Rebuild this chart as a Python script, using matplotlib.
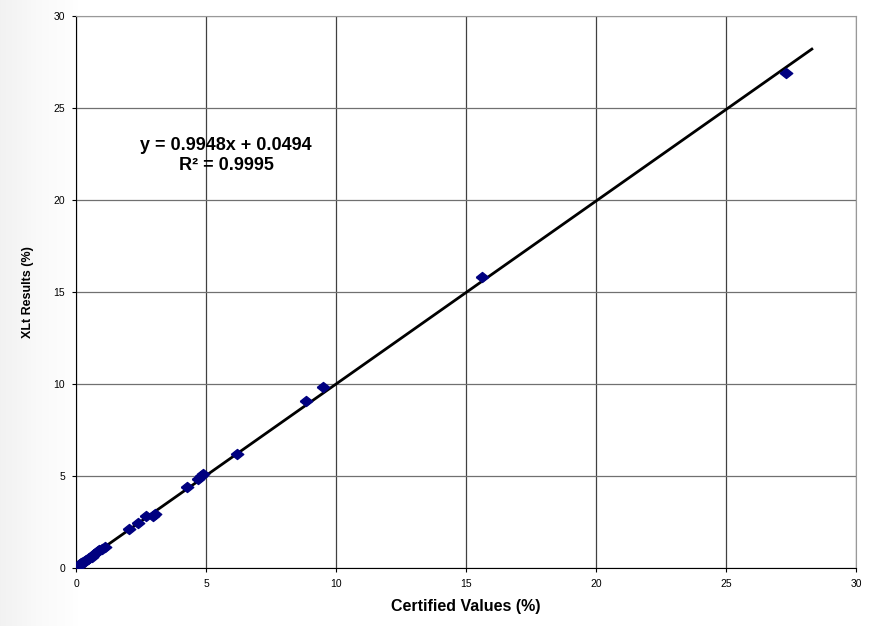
import matplotlib.pyplot as plt
import numpy as np

certified = [0.1, 0.15, 0.2, 0.25, 0.3, 0.35, 0.4, 0.45, 0.5, 0.6, 0.7, 0.8,
             0.85, 0.9, 1.0, 1.1, 2.05, 2.4, 2.7, 2.95, 3.05, 4.25, 4.7, 4.8,
             4.9, 6.2, 8.85, 9.5, 15.6, 27.3]
xlt = [0.1, 0.2, 0.25, 0.3, 0.35, 0.4, 0.45, 0.5, 0.55, 0.6, 0.75, 0.85,
       0.9, 0.95, 1.05, 1.15, 2.1, 2.45, 2.8, 2.85, 2.95, 4.4, 4.85, 5.0,
       5.1, 6.22, 9.05, 9.85, 15.8, 26.9]

# trendline as printed on the chart
slope = 0.9948
intercept = 0.0494
fit_range = [0, 28.3]
eq_line = "y = 0.9948x + 0.0494"
r2_line = "R\u00b2 = 0.9995"

xticks = [0, 5, 10, 15, 20, 25, 30]
yticks = [0, 5, 10, 15, 20, 25, 30]

plt.rcParams['font.family'] = ['Liberation Sans', 'DejaVu Sans']

fig = plt.figure(figsize=(8.72, 6.26), dpi=100)
fig.patch.set_facecolor('white')

# faint grey shading down the left edge
bg = fig.add_axes([0, 0, 0.09, 1], zorder=-10)
grad = np.linspace(0, 1, 64)[None, :] * np.ones((8, 1))
bg.imshow(grad, cmap='Greys_r', vmin=-3, vmax=1, aspect='auto', alpha=0.35,
          extent=[0, 1, 0, 1])
bg.axis('off')

ax = fig.add_axes([0.0872, 0.0927, 0.8945, 0.8817])
ax.set_facecolor('white')

fx = np.array(fit_range)
ax.plot(fx, slope * fx + intercept, color='black', lw=2, zorder=3)

diamond = [(-1, 0), (0, 0.8), (1, 0), (0, -0.8), (-1, 0)]
ax.plot(certified, xlt, linestyle='none', marker=diamond, ms=9,
        color='#000080', mec='#000080', zorder=4)

ax.text(5.77, 22.95, eq_line, ha='center', va='center', fontsize=13,
        fontweight='bold')
ax.text(5.77, 21.85, r2_line, ha='center', va='center', fontsize=13,
        fontweight='bold')

ax.set_xlim(0, 30)
ax.set_ylim(0, 30)
ax.set_xticks(xticks)
ax.set_yticks(yticks)
ax.grid(True, axis='x', color='#404040', lw=0.9)
ax.grid(True, axis='y', color='#707070', lw=0.9)
ax.set_axisbelow(True)
ax.tick_params(direction='out', length=3, width=0.8, labelsize=7.5,
               colors='black', pad=5)

for side in ['top', 'right']:
    ax.spines[side].set_color('#999999')
for side in ['left', 'bottom']:
    ax.spines[side].set_color('black')

ax.set_xlabel("Certified Values (%)", fontsize=11.5, fontweight='bold',
              labelpad=7)
ax.set_ylabel("XLt Results (%)", fontsize=9, fontweight='bold', labelpad=14)

plt.savefig("out.png", dpi=100)
